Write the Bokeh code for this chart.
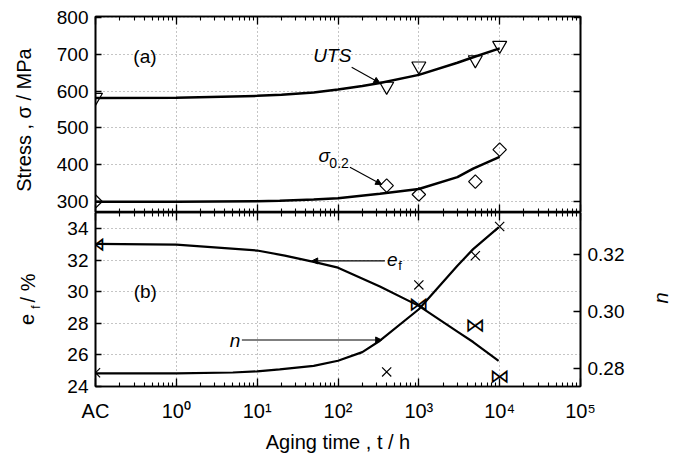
import math
from bokeh.plotting import figure
from bokeh.layouts import column, row
from bokeh.models import (Range1d, LinearAxis, LogAxis, LogTicker, FixedTicker,
                          NumeralTickFormatter, Label, Arrow, NormalHead, ColumnDataSource)
from bokeh.core.properties import value
from bokeh.embed import file_html
from bokeh.resources import INLINE

FONT = "Liberation Sans"

# ---------------- data ----------------
# aging time axis (h); "AC" (as-cast) placed one decade below 10^0
x_ticks = [0.1, 1, 10, 100, 1000, 10000, 100000]
x_tick_labels = ["AC", "10⁰", "10¹", "10²", "10³", "10⁴", "10⁵"]

stress_ticks = [300, 400, 500, 600, 700, 800]
ef_ticks = [24, 26, 28, 30, 32, 34]
n_ticks = [0.28, 0.30, 0.32]

# (a) measured points
uts_t = [0.1, 400, 1000, 5000, 10000]
uts = [583, 613, 668, 685, 724]
ys_t = [0.1, 400, 1000, 5000, 10000]
ys = [300, 343, 319, 354, 441]

# (a) fitted curves
uts_fit_t = [0.1, 1, 10, 20, 50, 100, 200, 330, 1000, 3000, 4700, 10000]
uts_fit = [581, 582, 587, 590, 596, 604, 614, 622, 644, 677, 692, 716]
ys_fit_t = [0.1, 1, 10, 19, 50, 100, 330, 1000, 3000, 4700, 10000]
ys_fit = [299, 299.5, 300.5, 302, 305, 309, 321, 334, 366, 389, 421]

# (b) measured points
ef_t = [0.1, 1000, 5000, 10000]
ef = [33.05, 29.2, 27.86, 24.64]
n_t = [0.1, 400, 1000, 5000, 10000]
n_val = [0.2786, 0.2789, 0.3093, 0.3195, 0.3297]

# (b) fitted curves
ef_fit_t = [0.1, 1, 10, 22, 50, 100, 330, 1000, 3000, 4700, 9700]
ef_fit = [33.05, 33.0, 32.62, 32.3, 31.9, 31.53, 30.33, 29.1, 27.46, 26.8, 25.6]
n_fit_t = [0.1, 1, 5, 10, 19, 50, 100, 200, 330, 1000, 3000, 4700, 9700]
n_fit = [0.2784, 0.2784, 0.2787, 0.2791, 0.2798, 0.2810, 0.2828, 0.2858, 0.2898,
         0.3008, 0.316, 0.3218, 0.3294]

# ---------------- helpers ----------------
overrides = dict(zip(x_ticks, x_tick_labels))
GRID_COLOR = "#8a8a8a"
TOTAL_H = 453
LEFT_W = 45
RIGHT_W = 42


def style_axis(ax, show_labels, tick_in=8, minor_in=4, size="19px", standoff=7):
    ax.axis_line_width = 1.6
    ax.axis_line_color = "black"
    ax.major_tick_in = tick_in
    ax.major_tick_out = 0
    ax.minor_tick_in = minor_in
    ax.minor_tick_out = 0
    ax.major_tick_line_width = 1.3
    ax.minor_tick_line_width = 1.1
    ax.major_tick_line_color = "black"
    ax.minor_tick_line_color = "black"
    ax.major_label_text_font = FONT
    ax.major_label_text_color = "black"
    if show_labels:
        ax.major_label_text_font_size = size
        ax.major_label_standoff = standoff
    else:
        ax.major_label_text_font_size = "1px"
        ax.major_label_text_alpha = 0
        ax.major_label_standoff = 0


def style_fig(p):
    p.outline_line_color = "black"
    p.outline_line_width = 1.6
    p.background_fill_color = "white"
    p.border_fill_color = "white"
    p.xgrid.grid_line_color = GRID_COLOR
    p.xgrid.grid_line_dash = "1 3"
    p.xgrid.grid_line_width = 1
    p.ygrid.grid_line_color = GRID_COLOR
    p.ygrid.grid_line_dash = "1 3"
    p.ygrid.grid_line_width = 1


def txt(p, x, y, text, size="19px", style="normal", align="left", angle=0.0):
    p.add_layout(Label(x=x, y=y, text=text, text_font=FONT, text_font_size=size,
                       text_font_style=style, text_align=align, text_baseline="middle",
                       angle=angle, text_color="black"))


def leader(p, xs, ys_, xe, ye):
    p.add_layout(Arrow(x_start=xs, y_start=ys_, x_end=xe, y_end=ye, line_width=1.1,
                       line_color="black",
                       end=NormalHead(size=6, fill_color="black", line_color="black")))


def side_fig(w):
    f = figure(width=w, height=TOTAL_H, x_range=Range1d(0, w), y_range=Range1d(TOTAL_H, 0),
               min_border=0, x_axis_location=None, y_axis_location=None,
               output_backend="svg", toolbar_location=None)
    f.outline_line_color = None
    f.grid.visible = False
    f.background_fill_color = "white"
    f.border_fill_color = "white"
    return f


x_range = Range1d(0.1, 1e5)
BL = 95 - LEFT_W
BR = 682 - 580 - RIGHT_W

# ---------------- (a) stress panel ----------------
p1 = figure(x_axis_type="log", x_range=x_range, y_range=Range1d(270, 802.7),
            frame_width=485, frame_height=196, min_border_left=BL, min_border_right=BR,
            min_border_top=16, min_border_bottom=0,
            output_backend="svg", toolbar_location=None)
style_fig(p1)
p1.xaxis.ticker = LogTicker(num_minor_ticks=10)
style_axis(p1.xaxis[0], False)
p1.yaxis.ticker = FixedTicker(ticks=stress_ticks)
style_axis(p1.yaxis[0], True, tick_in=6, minor_in=0)
top_ax = LogAxis(ticker=LogTicker(num_minor_ticks=10))
style_axis(top_ax, False)
p1.add_layout(top_ax, "above")
r_ax = LinearAxis(ticker=FixedTicker(ticks=stress_ticks))
style_axis(r_ax, False, tick_in=7, minor_in=0)
p1.add_layout(r_ax, "right")

p1.line(uts_fit_t, uts_fit, line_width=2.5, line_color="black")
p1.line(ys_fit_t, ys_fit, line_width=2.5, line_color="black")
p1.scatter(uts_t, uts, marker="inverted_triangle", size=14, fill_alpha=0,
           line_color="black", line_width=1.2)
p1.scatter(ys_t, ys, marker="square", angle=math.pi / 4, size=9.5, fill_alpha=0,
           line_color="black", line_width=1.2)

txt(p1, 0.294, 694.5, "(a)")
txt(p1, 49.5, 697, "UTS", style="italic")
leader(p1, 147.6, 665, 330, 622)
txt(p1, 57.2, 425, "σ", style="italic")
txt(p1, 78.2, 405, "0.2", size="14px")
leader(p1, 140.6, 393, 347, 346)

# ---------------- (b) elongation / n panel ----------------
p2 = figure(x_axis_type="log", x_range=x_range, y_range=Range1d(23.97, 35.04),
            frame_width=485, frame_height=174, min_border_left=BL, min_border_right=BR,
            min_border_top=0, min_border_bottom=0,
            output_backend="svg", toolbar_location=None)
p2.extra_y_ranges = {"n": Range1d(0.2738, 0.3346)}
style_fig(p2)
p2.xaxis.ticker = LogTicker(num_minor_ticks=10)
style_axis(p2.xaxis[0], True, size="20px", standoff=13)
p2.xaxis.major_label_overrides = overrides
p2.xaxis.axis_label = "Aging time , t / h"
p2.xaxis.axis_label_text_font = FONT
p2.xaxis.axis_label_text_font_size = "20px"
p2.xaxis.axis_label_text_font_style = "normal"
p2.xaxis.axis_label_text_color = "black"
p2.xaxis.axis_label_standoff = 6
p2.yaxis.ticker = FixedTicker(ticks=ef_ticks)
style_axis(p2.yaxis[0], True, tick_in=6, minor_in=0)
top_ax2 = LogAxis(ticker=LogTicker(num_minor_ticks=10))
style_axis(top_ax2, False)
p2.add_layout(top_ax2, "above")
n_ax = LinearAxis(y_range_name="n", ticker=FixedTicker(ticks=n_ticks),
                  formatter=NumeralTickFormatter(format="0.00"))
style_axis(n_ax, True, tick_in=7, minor_in=0)
p2.add_layout(n_ax, "right")

p2.line(ef_fit_t, ef_fit, line_width=2.2, line_color="black")
p2.line(n_fit_t, n_fit, line_width=2.2, line_color="black", y_range_name="n")
p2.scatter(n_t, n_val, marker="x", size=13, line_color="black", line_width=1.2,
           y_range_name="n")
ef_src = ColumnDataSource(dict(t=ef_t, v=ef, m=["⋈"] * len(ef_t)))
p2.text(x="t", y="v", text="m", source=ef_src, text_font=value("DejaVu Sans"),
        text_font_size="20px", text_align="center", text_baseline="middle",
        text_color="black")

txt(p2, 0.297, 30.02, "(b)")
txt(p2, 405, 32.06, "e", style="italic")
txt(p2, 555, 31.64, "f", size="13px")
leader(p2, 380, 31.96, 47.3, 31.96)
txt(p2, 6.17, 26.89, "n", style="italic", align="right")
leader(p2, 6.47, 26.93, 347, 26.93)

# ---------------- outer axis titles (side strips, pixel coordinates) ----------------
left = side_fig(LEFT_W)
txt(left, 23, 119.5, "Stress , σ / MPa", size="20px", align="center", angle=math.pi / 2)
txt(left, 26.5, 319, "e", size="20px", align="center", angle=math.pi / 2)
txt(left, 35, 306.5, "f", size="12px", align="center", angle=math.pi / 2)
txt(left, 27.5, 287.5, "/ %", size="20px", align="center", angle=math.pi / 2)

right = side_fig(RIGHT_W)
txt(right, 20, 297.5, "n", size="20px", style="italic", align="center", angle=math.pi / 2)

layout = row(left, column(p1, p2, spacing=0), right, spacing=0)
open("out.html", "w").write(file_html(layout, INLINE))
